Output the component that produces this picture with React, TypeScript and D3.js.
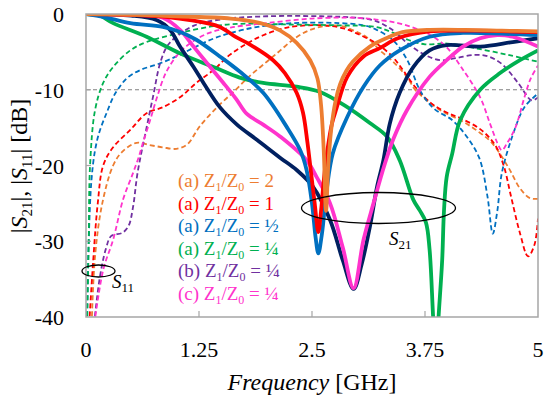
import React from "react";
import * as d3 from "d3";

type P = [number, number];

// S21 (solid) curves: [GHz, dB]
const s21A2: P[] = [[0,0],[0.5,-0.1],[1.0,-0.3],[1.6,-0.6],[1.93,-1.2],[2.15,-2.2],[2.33,-3.8],[2.48,-6.1],[2.56,-8.5],[2.6,-12],[2.63,-18],[2.655,-26],[2.68,-20],[2.71,-15.5],[2.76,-11.5],[2.81,-9.3],[2.88,-7.5],[2.95,-6.3],[3.14,-4.3],[3.36,-3.0],[3.5,-2.4],[3.8,-2.1],[4.2,-2.1],[4.6,-2.2],[5.0,-2.3]];
const s21A1: P[] = [[0,0],[0.5,-0.1],[0.9,-0.4],[1.15,-0.8],[1.48,-1.7],[1.65,-3.0],[1.81,-4.0],[2.07,-6.1],[2.2,-7.8],[2.33,-10.4],[2.4,-13],[2.45,-17],[2.49,-21],[2.53,-25],[2.57,-28.8],[2.6,-26],[2.63,-22],[2.67,-18],[2.72,-14.5],[2.77,-12.5],[2.89,-8.3],[3.07,-5.6],[3.25,-4.5],[3.45,-3.2],[3.8,-2.3],[4.3,-2.2],[5.0,-2.4]];
const s21AHalf: P[] = [[0,0],[0.2,-0.4],[0.49,-1.2],[0.85,-1.7],[1.05,-2.4],[1.22,-3.4],[1.48,-5.6],[1.7,-7.6],[1.96,-10.4],[2.22,-14.9],[2.37,-18],[2.44,-20.6],[2.5,-25],[2.54,-29.5],[2.57,-31.6],[2.61,-29],[2.66,-23.5],[2.73,-18.4],[2.89,-13.6],[3.07,-9.6],[3.25,-6.8],[3.47,-4.8],[3.8,-3.0],[4.17,-2.5],[4.6,-2.6],[5.0,-2.8]];
const s21AQuarter: P[] = [[0,0],[0.15,-0.2],[0.3,-1.2],[0.67,-3.0],[1.04,-5.2],[1.41,-7.0],[1.7,-8.4],[1.96,-9.1],[2.33,-9.6],[2.59,-10.3],[2.89,-12.3],[3.14,-14.4],[3.33,-16.2],[3.47,-19.3],[3.62,-24.5],[3.69,-25.9],[3.76,-27.5],[3.8,-31],[3.84,-40],[3.87,-46],[3.9,-40],[3.94,-32.5],[3.96,-26],[3.99,-21.5],[4.05,-18.5],[4.14,-14],[4.36,-10],[4.58,-7.8],[4.8,-6.1],[5.0,-4.8]];
const s21B: P[] = [[0,0],[0.5,-0.2],[0.78,-0.8],[0.93,-2.1],[1.04,-4.3],[1.19,-7.0],[1.3,-9.1],[1.48,-12.3],[1.67,-14.6],[1.89,-16.6],[2.15,-19.0],[2.33,-20.6],[2.51,-22.8],[2.7,-27.2],[2.84,-32.5],[2.96,-36.3],[3.05,-33],[3.14,-28.1],[3.22,-22.8],[3.29,-19.3],[3.36,-14.5],[3.47,-10.4],[3.62,-7.0],[3.8,-4.8],[3.99,-4.1],[4.36,-4.3],[4.72,-3.7],[5.0,-3.2]];
const s21C: P[] = [[0,0],[0.5,-0.1],[0.85,-0.5],[1.04,-2.1],[1.19,-4.3],[1.34,-6.5],[1.52,-9.1],[1.66,-11.2],[1.78,-13.2],[1.96,-14.6],[2.15,-16.2],[2.44,-19.3],[2.55,-21.5],[2.7,-25],[2.84,-30.8],[2.96,-36.2],[3.07,-29.8],[3.18,-25],[3.3,-20],[3.4,-16.5],[3.55,-12.7],[3.8,-8.3],[3.99,-6.1],[4.17,-4.3],[4.36,-3.2],[4.55,-2.8],[4.72,-3.0],[5.0,-4.3]];

// S11 (dashed) curves
const s11A2: P[] = [[0.06,-42],[0.1,-32],[0.18,-25],[0.3,-20],[0.4,-18.2],[0.56,-17],[0.7,-17.3],[0.85,-17.6],[1.0,-17.8],[1.12,-17.2],[1.26,-14.8],[1.45,-12.3],[1.63,-10.3],[1.81,-8.2],[2.0,-6.3],[2.15,-4.8],[2.3,-3.3],[2.46,-2.2],[2.64,-1.6],[2.83,-1.6],[3.0,-2.4],[3.12,-3.2],[3.25,-4.8],[3.38,-6.1],[3.55,-8.3],[3.64,-10],[3.73,-11],[3.92,-12.7],[4.17,-14.2],[4.36,-15.7],[4.49,-17],[4.67,-20.2],[4.8,-23],[4.91,-24.3],[5.0,-24.4]];
const s11A1: P[] = [[0.03,-42],[0.08,-32.5],[0.13,-25],[0.19,-20],[0.3,-17.6],[0.49,-15.3],[0.67,-13.1],[0.85,-12.3],[1.04,-11],[1.22,-9.1],[1.41,-7.4],[1.59,-5.4],[1.78,-3.9],[1.96,-2.8],[2.15,-2.0],[2.33,-1.6],[2.64,-1.5],[2.85,-1.9],[3.0,-2.6],[3.2,-3.8],[3.38,-5.5],[3.5,-7.3],[3.64,-9.6],[3.82,-11.8],[3.99,-13],[4.15,-13.8],[4.36,-15.2],[4.52,-17.2],[4.62,-20],[4.7,-24],[4.8,-28.9],[4.89,-32],[4.96,-30.5],[5.0,-27]];
const s11AHalf: P[] = [[0.01,-42],[0.03,-30],[0.06,-22],[0.1,-18],[0.15,-15.5],[0.23,-13],[0.3,-11],[0.35,-10],[0.45,-8.5],[0.6,-7.4],[0.8,-6.6],[1.0,-5.6],[1.2,-4.4],[1.4,-3.3],[1.6,-2.5],[1.9,-1.7],[2.3,-1.2],[2.8,-1.2],[3.07,-1.5],[3.2,-2.0],[3.4,-3.5],[3.55,-6],[3.7,-10.2],[3.85,-12.5],[4.05,-14],[4.2,-16],[4.35,-19],[4.44,-24],[4.5,-29],[4.55,-26],[4.6,-21],[4.72,-16],[4.85,-12.3],[5.0,-10.5]];
const s11AQuarter: P[] = [[0.01,-42],[0.03,-30],[0.045,-20],[0.1,-12.7],[0.19,-9.1],[0.3,-7.0],[0.49,-4.8],[0.67,-3.7],[1.04,-2.5],[1.41,-1.6],[1.7,-1.3],[2.3,-1.4],[2.8,-1.5],[3.2,-1.7],[3.4,-2.5],[3.56,-3.4],[3.75,-4.0],[4.0,-3.9],[4.3,-4.5],[4.67,-5.4],[5.0,-6.3]];
const s11B: P[] = [[0.08,-42],[0.15,-35],[0.22,-31],[0.28,-29.3],[0.4,-28.9],[0.47,-28],[0.52,-25.5],[0.57,-21],[0.67,-15],[0.74,-11],[0.82,-6.5],[0.9,-4.2],[1.0,-3.0],[1.2,-1.5],[1.5,-0.7],[2.0,-0.3],[2.6,-0.3],[3.0,-0.5],[3.2,-0.9],[3.4,-2.2],[3.56,-3.9],[3.75,-5.4],[3.92,-6.1],[4.1,-5.8],[4.3,-5.4],[4.45,-5.6],[4.6,-6.6],[4.78,-9.1],[4.93,-11.4],[5.0,-11]];
const s11C: P[] = [[0.08,-42],[0.19,-33.8],[0.3,-29.8],[0.41,-24.5],[0.52,-21],[0.58,-19],[0.63,-17],[0.71,-14],[0.78,-11.2],[0.89,-7.6],[1.04,-5.0],[1.15,-3.9],[1.34,-2.6],[1.6,-1.8],[2.0,-1.2],[2.5,-0.6],[3.0,-0.5],[3.25,-0.8],[3.45,-1.2],[3.62,-1.8],[3.8,-2.7],[3.99,-4.4],[4.15,-7],[4.36,-11],[4.47,-14.5],[4.55,-17],[4.6,-18],[4.66,-17],[4.75,-15],[4.85,-11],[4.92,-8.5],[5.0,-6.8]];

const xTicks = [0, 1.25, 2.5, 3.75, 5];
const xTickLabels = ["0", "1.25", "2.5", "3.75", "5"];
const yTicks = [0, -10, -20, -30, -40];

const legendPrefixes = ["(a)", "(a)", "(a)", "(a)", "(b)", "(c)"];
const legendValues = ["2", "1", "\u00BD", "\u00BC", "\u00BC", "\u00BC"];

const C = {
  orange: "#ED7D31",
  red: "#FF0000",
  blue: "#0070C0",
  green: "#00B050",
  purple: "#7030A0",
  magenta: "#FF33CC",
  navy: "#002060",
};
const legendColors = [C.orange, C.red, C.blue, C.green, C.purple, C.magenta];

const W = 550, H = 398;
const L = 86, R = 538, T = 14, B = 317;
const FONT = "Liberation Serif, Times New Roman, Times, serif";

export default function App() {
  const x = d3.scaleLinear().domain([0, 5]).range([L, R]);
  const y = d3.scaleLinear().domain([-40, 0]).range([B, T]);
  const line = d3
    .line<P>()
    .x((d) => x(d[0]))
    .y((d) => y(d[1]))
    .curve(d3.curveCatmullRom.alpha(0.5));

  const dashed: [P[], string][] = [
    [s11A2, C.orange],
    [s11A1, C.red],
    [s11AHalf, C.blue],
    [s11AQuarter, C.green],
    [s11B, C.purple],
    [s11C, C.magenta],
  ];
  const solid: [P[], string][] = [
    [s21AQuarter, C.green],
    [s21B, C.navy],
    [s21C, C.magenta],
    [s21AHalf, C.blue],
    [s21A1, C.red],
    [s21A2, C.orange],
  ];

  const tx = { fontFamily: FONT };

  return (
    <svg width={W} height={H} style={{ position: "absolute", left: 0, top: 0, background: "#fff", fontFamily: FONT }}>
      <defs>
        <clipPath id="plot">
          <rect x={L} y={T} width={R - L} height={B - T} />
        </clipPath>
      </defs>
      <rect x={0} y={0} width={W} height={H} fill="#fff" />
      <line x1={L} x2={R} y1={y(-10)} y2={y(-10)} stroke="#808080" strokeWidth={1.2} strokeDasharray="4,3" />
      <g clipPath="url(#plot)">
        {dashed.map(([d, c], i) => (
          <path key={"d" + i} d={line(d) || ""} fill="none" stroke={c} strokeWidth={1.8} strokeDasharray="5,3" />
        ))}
        {solid.map(([d, c], i) => (
          <path key={"s" + i} d={line(d) || ""} fill="none" stroke={c} strokeWidth={3.8} strokeLinejoin="round" />
        ))}
      </g>
      <rect x={L} y={T} width={R - L} height={B - T} fill="none" stroke="#a6a6a6" strokeWidth={1.5} />
      {xTicks.slice(1, -1).map((t) => (
        <line key={"xt" + t} x1={x(t)} x2={x(t)} y1={B} y2={B - 6} stroke="#a6a6a6" strokeWidth={1.2} />
      ))}
      {yTicks.slice(1, -1).map((t) => (
        <line key={"yt" + t} x1={L} x2={L + 5} y1={y(t)} y2={y(t)} stroke="#a6a6a6" strokeWidth={1.2} />
      ))}
      {xTicks.map((t, i) => (
        <text key={"xl" + t} style={tx} x={x(t)} y={357} fontSize={22} textAnchor="middle" fill="#000">
          {xTickLabels[i]}
        </text>
      ))}
      {yTicks.map((t) => (
        <text key={"yl" + t} style={tx} x={64} y={y(t) + 8} fontSize={22} textAnchor="end" fill="#000">
          {String(t)}
        </text>
      ))}
      <text style={tx} x={312} y={390} fontSize={24} textAnchor="middle" fill="#000">
        <tspan fontStyle="italic">Frequency</tspan> [GHz]
      </text>
      <text style={tx} transform="translate(27,166) rotate(-90)" fontSize={24} textAnchor="middle" fill="#000">
        |<tspan fontStyle="italic">S</tspan>
        <tspan fontSize={15} dy={5}>21</tspan>
        <tspan dy={-5}>|, |</tspan>
        <tspan fontStyle="italic">S</tspan>
        <tspan fontSize={15} dy={5}>11</tspan>
        <tspan dy={-5}>| [dB]</tspan>
      </text>
      {legendPrefixes.map((p, i) => (
        <text key={"lg" + i} style={tx} x={178} y={187 + i * 22.6} fontSize={19} fill={legendColors[i]}>
          {p} Z<tspan fontSize={12} dy={4}>1</tspan>
          <tspan dy={-4}>/Z</tspan>
          <tspan fontSize={12} dy={4}>0</tspan>
          <tspan dy={-4}> = {legendValues[i]}</tspan>
        </text>
      ))}
      <ellipse cx={378.5} cy={208} rx={77} ry={15.5} fill="none" stroke="#000" strokeWidth={1.3} />
      <text style={tx} x={389} y={245} fontSize={19} fill="#000">
        <tspan fontStyle="italic">S</tspan>
        <tspan fontSize={13} dy={4}>21</tspan>
      </text>
      <ellipse cx={98.5} cy={271} rx={16.5} ry={6} fill="none" stroke="#000" strokeWidth={1.3} />
      <text style={tx} x={112} y={288} fontSize={19} fill="#000">
        <tspan fontStyle="italic">S</tspan>
        <tspan fontSize={13} dy={4}>11</tspan>
      </text>
    </svg>
  );
}
